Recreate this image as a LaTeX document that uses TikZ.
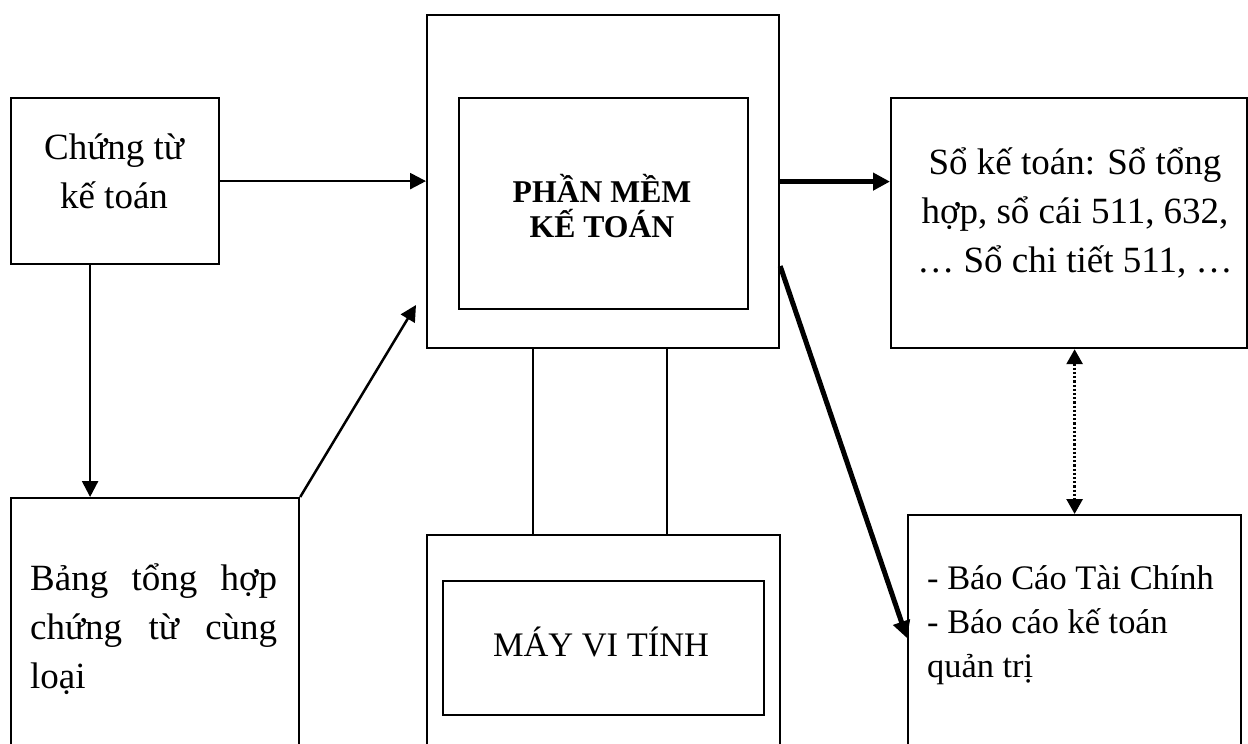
\documentclass[tikz,border=0pt]{standalone}
\usepackage{fontspec}
\setmainfont{Liberation Serif}
\usetikzlibrary{arrows.meta}
% text sizes used in the chart
\newcommand\fsBody{\fontsize{37}{49}\selectfont}
\newcommand\fsSmall{\fontsize{34.4}{44}\selectfont}
\newcommand\fsHead{\fontsize{31.7}{35}\selectfont\bfseries}
% stacked lines, centred or flush left; the node base is the first baseline
\newcommand\linesC[1]{\vtop{\halign{\hfil##\hfil\cr#1\crcr}}}
\newcommand\linesL[1]{\vtop{\halign{##\hfil\cr#1\crcr}}}
\begin{document}
\begin{tikzpicture}[x=1pt,y=-1pt,
  box/.style={draw, line width=2.2pt, rectangle, inner sep=0pt, anchor=north west},
  txt/.style={inner sep=0pt, anchor=base},
  txtl/.style={inner sep=0pt, anchor=base west},
  link/.style={line width=2.5pt, -{Triangle[length=16pt,width=16pt]}},
  boldlink/.style={line width=5pt, -{Triangle[length=17pt,width=17pt]}},
  dotlink/.style={line width=2.8pt, dash pattern=on 2.2pt off 2pt,
    {Triangle[length=15pt,width=16pt]}-{Triangle[length=15pt,width=16pt]}},
  ]
\useasboundingbox (0,0) rectangle (1248,744);
\clip (0,0) rectangle (1248,744);

% boxes
\node[box, minimum width=208pt, minimum height=166pt] (ct) at (10,97) {};
\node[box, minimum width=288pt, minimum height=263pt] (bth) at (10,497) {};
\node[box, minimum width=352pt, minimum height=333pt] (pm) at (426,14) {};
\node[box, minimum width=289pt, minimum height=211pt] (pmi) at (458,97) {};
\node[box, minimum width=353pt, minimum height=226pt] (mvt) at (426,534) {};
\node[box, minimum width=321pt, minimum height=134pt] (mvti) at (442,580) {};
\node[box, minimum width=356pt, minimum height=250pt] (sk) at (890,97) {};
\node[box, minimum width=333pt, minimum height=246pt] (bc) at (907,514) {};

% texts
\node[txt, font=\fsBody] (ctT) at (114,159) {\linesC{Chứng từ\cr kế toán}};
\node[txtl, font=\fsBody] (bthT) at (30,590)
  {\vtop{\hbox to 247pt{Bảng\hfill tổng\hfill hợp}\hbox to 247pt{chứng\hfill từ\hfill cùng}\hbox{loại}}};
\node[txt, font=\fsHead] (pmT) at (602,202) {\linesC{PHẦN MỀM\cr KẾ TOÁN}};
\node[txt, font=\fsSmall] (mvtT) at (601,656) {MÁY VI TÍNH};
\node[txt, font=\fsBody] (skT) at (1075,174)
  {\linesC{Sổ kế toán: Sổ tổng\cr hợp, sổ cái 511, 632,\cr … Sổ chi tiết 511, …}};
\node[txtl, font=\fsSmall] (bcT) at (927,589)
  {\linesL{- Báo Cáo Tài Chính\cr - Báo cáo kế toán\cr quản trị}};

% connectors
\coordinate (pmIn) at (416,305);
\draw[link] (ct.east) -- (ct.east -| pm.west);
\draw[link] ([xshift=-25pt]ct.south) -- ([xshift=-25pt]ct.south |- bth.north);
\draw[link] (bth.north east) -- (pmIn);
\draw[line width=2.2pt] ([xshift=-70pt]pm.south) -- ([xshift=-70pt]pm.south |- mvt.north);
\draw[line width=2.2pt] ([xshift=64pt]pm.south) -- ([xshift=64pt]pm.south |- mvt.north);
\draw[boldlink] (pm.east) -- (pm.east -| sk.west);
\draw[boldlink] ([yshift=-84.5pt]pm.east) -- (bc.west);
\draw[dotlink] (bc.north |- sk.south) -- (bc.north);
\end{tikzpicture}
\end{document}
